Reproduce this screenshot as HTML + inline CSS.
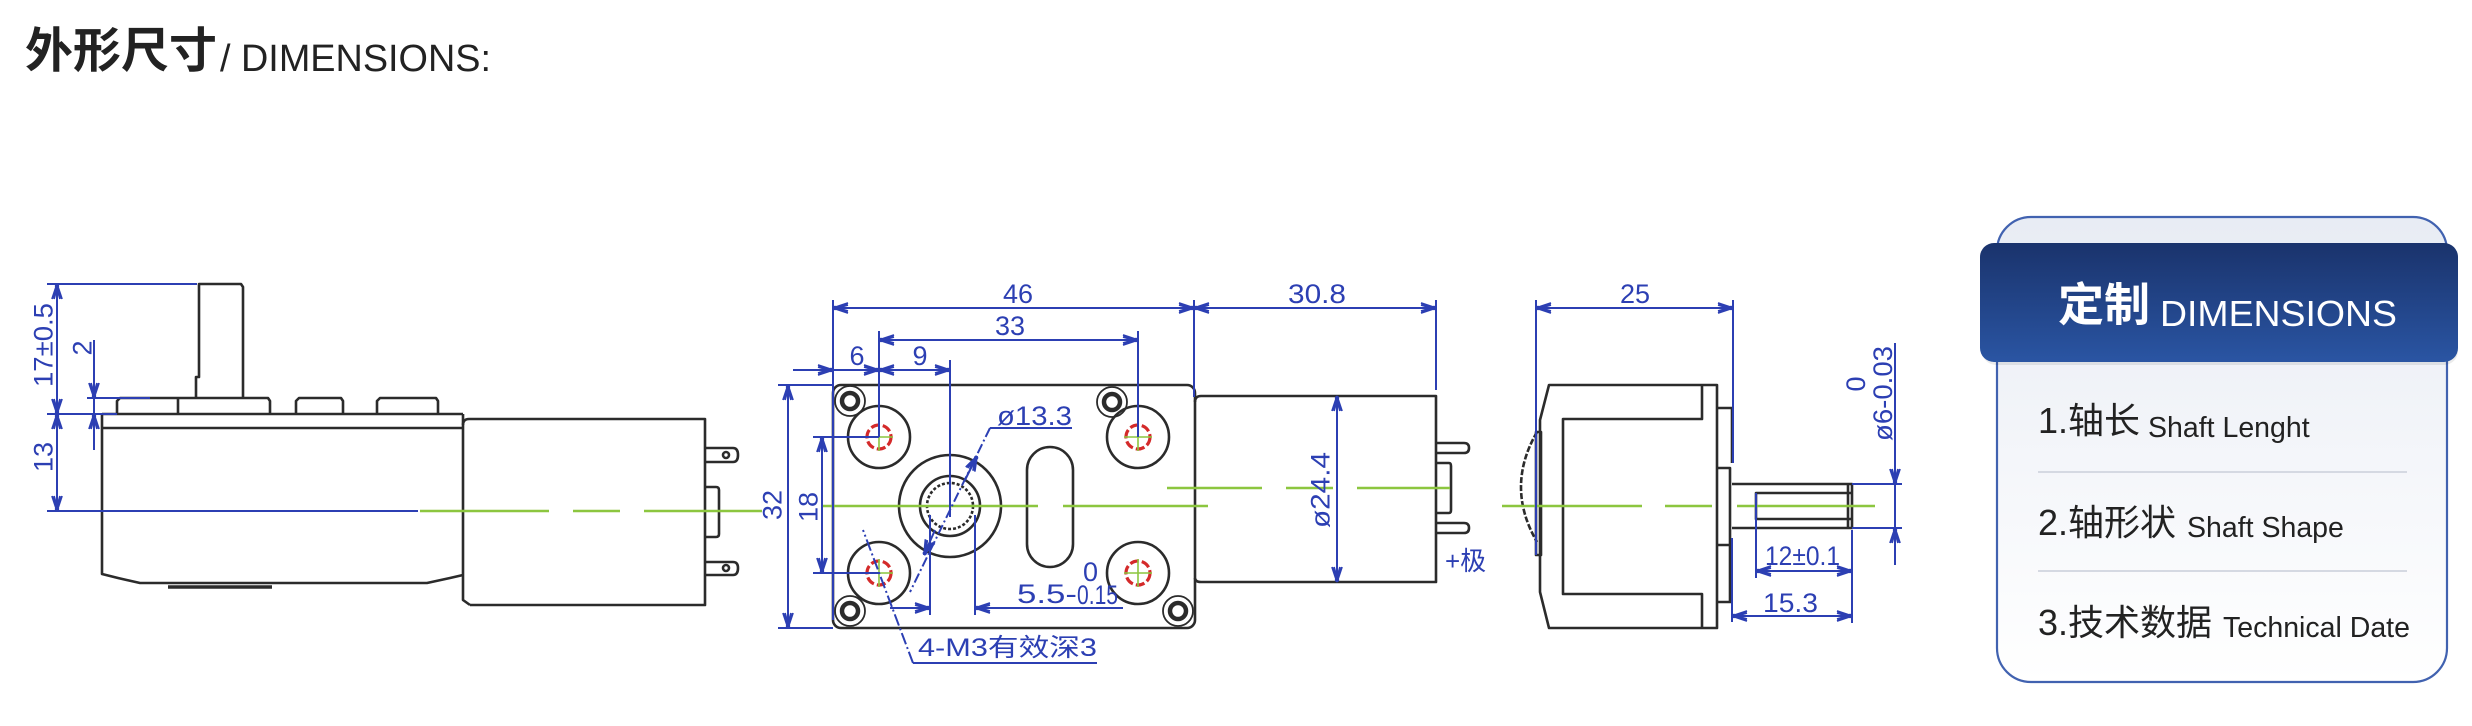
<!DOCTYPE html>
<html><head><meta charset="utf-8"><style>
html,body{margin:0;padding:0;background:#fff;}
body{width:2472px;height:726px;overflow:hidden;}
svg{display:block;}
.k{stroke:#2b2b2b;stroke-width:2.6;fill:none;stroke-linejoin:round;}
.b{stroke:#2c3fb3;stroke-width:2;fill:none;}
.g{stroke:#8cc63f;stroke-width:2.5;fill:none;}
.t{fill:#2c3fb3;font-family:"Liberation Sans","Noto Sans CJK SC",sans-serif;font-size:27px;}
</style></head><body>
<svg width="2472" height="726" viewBox="0 0 2472 726" xmlns="http://www.w3.org/2000/svg">
<defs>
<marker id="a" markerUnits="userSpaceOnUse" markerWidth="30" markerHeight="30" refX="0" refY="0" orient="auto-start-reverse" overflow="visible" viewBox="-20 -10 30 20">
<path d="M0,0 L-15,-5 M0,0 L-15,5 M-4,0 L-15,-3 M-4,0 L-15,3" stroke="#2c3fb3" stroke-width="1.8" fill="none"/>
<circle cx="-2" cy="0" r="2.2" fill="#2c3fb3"/>
</marker>
<linearGradient id="cardg" x1="0" y1="0" x2="0" y2="1">
<stop offset="0" stop-color="#e8ecf4"/><stop offset="1" stop-color="#ffffff"/>
</linearGradient>
<linearGradient id="headg" x1="0" y1="0" x2="0" y2="1">
<stop offset="0" stop-color="#1a336c"/><stop offset="1" stop-color="#2a55a3"/>
</linearGradient>
</defs>

<!-- Title -->
<text x="25" y="67" font-size="48" font-weight="bold" fill="#222" font-family="'Liberation Sans','Noto Sans CJK SC',sans-serif">外形尺寸</text>
<text x="220" y="71" font-size="38" fill="#222" font-family="'Liberation Sans',sans-serif" textLength="271" lengthAdjust="spacingAndGlyphs">/ DIMENSIONS:</text>

<!-- ================= LEFT VIEW ================= -->
<!-- shaft -->
<path class="k" d="M196,398 V377 H199 V284 H241 L243,287 V398"/>
<!-- bumps -->
<path class="k" d="M117,414 V401 L120,398 H178 M178,414 V398 H268 L270,401 V414"/>
<path class="k" d="M296,414 V401 L299,398 H341 L343,401 V414"/>
<path class="k" d="M377,414 V401 L380,398 H436 L438,401 V414"/>
<!-- housing -->
<path class="k" d="M102,414 H463 M102,428 H463 M102,414 V574 L118,578 L140,583 H427 L450,578 L463,575 M463,414 V600 L470,605"/>
<path d="M168,587 H272" stroke="#2b2b2b" stroke-width="3.5"/>
<!-- motor -->
<path class="k" d="M463,425 Q463,419 469,419 H705 V605 H470"/>
<!-- terminals -->
<path class="k" d="M705,448 H733 Q738,448 738,455 Q738,462 733,462 H705"/>
<circle cx="726" cy="455" r="3" class="k" stroke-width="2"/>
<path class="k" d="M705,562 H733 Q738,562 738,568 Q738,575 733,575 H705"/>
<circle cx="726" cy="568" r="3" class="k" stroke-width="2"/>
<path class="k" d="M705,487 H716 Q719,487 719,490 V534 Q719,537 716,537 H705"/>
<!-- dims left -->
<path class="b" d="M47,284 H197 M47,414 H117 M87,398 H150 M47,511 H418"/>
<line class="b" x1="57" y1="284" x2="57" y2="414" marker-start="url(#a)" marker-end="url(#a)"/>
<line class="b" x1="57" y1="414" x2="57" y2="511" marker-start="url(#a)" marker-end="url(#a)"/>
<line class="b" x1="94" y1="340" x2="94" y2="398" marker-end="url(#a)"/>
<line class="b" x1="94" y1="450" x2="94" y2="414" marker-end="url(#a)"/>
<line class="b" x1="94" y1="398" x2="94" y2="414"/>
<text class="t" transform="translate(43,345) rotate(-90)" text-anchor="middle" dy="0.36em" textLength="84" lengthAdjust="spacingAndGlyphs">17±0.5</text>
<text class="t" transform="translate(82,348) rotate(-90)" text-anchor="middle" dy="0.36em">2</text>
<text class="t" transform="translate(43,457) rotate(-90)" text-anchor="middle" dy="0.36em">13</text>
<path class="g" d="M420,511 H549 M573,511 H620 M644,511 H762"/>

<!-- ================= FRONT VIEW ================= -->
<rect class="k" x="833" y="385" width="362" height="243" rx="8"/>
<!-- screws -->
<g class="k">
<circle cx="850" cy="401" r="15" stroke-width="1.8"/><circle cx="850" cy="401" r="8" stroke-width="4.5"/>
<circle cx="1112" cy="402" r="15" stroke-width="1.8"/><circle cx="1112" cy="402" r="8" stroke-width="4.5"/>
<circle cx="850" cy="611" r="15" stroke-width="1.8"/><circle cx="850" cy="611" r="8" stroke-width="4.5"/>
<circle cx="1178" cy="611" r="15" stroke-width="1.8"/><circle cx="1178" cy="611" r="8" stroke-width="4.5"/>
</g>
<!-- bosses -->
<g class="k" stroke-width="2">
<circle cx="879" cy="437" r="31"/><circle cx="1138" cy="437" r="31"/>
<circle cx="879" cy="573" r="31"/><circle cx="1138" cy="573" r="31"/>
</g>
<g fill="none" stroke="#d42a2a" stroke-width="3.2" stroke-dasharray="9 3">
<circle cx="879" cy="437" r="12"/><circle cx="1138" cy="437" r="12"/>
<circle cx="879" cy="573" r="12"/><circle cx="1138" cy="573" r="12"/>
</g>
<g stroke="#8cc63f" stroke-width="1.6">
<path d="M865,437 H893 M879,423 V451 M1124,437 H1152 M1138,423 V451 M865,573 H893 M879,559 V587 M1124,573 H1152 M1138,559 V587"/>
</g>
<!-- central boss -->
<circle class="k" cx="950" cy="506" r="51" stroke-width="2.2"/>
<circle class="k" cx="950" cy="506" r="30" stroke-width="4.5"/>
<circle class="k" cx="950" cy="506" r="23" stroke-width="2" stroke-dasharray="3 2"/>
<!-- slot -->
<rect class="k" x="1027" y="447" width="46" height="120" rx="23"/>
<!-- front motor -->
<path class="k" d="M1195,402 Q1195,396 1201,396 H1436 V582 H1201 Q1195,582 1195,578"/>
<path class="k" d="M1436,443 H1464 Q1469,443 1469,448 Q1469,453 1464,453 H1436"/>
<path class="k" d="M1436,523 H1464 Q1469,523 1469,528 Q1469,533 1464,533 H1436"/>
<path class="k" d="M1436,463 H1449 Q1451,463 1451,466 V510 Q1451,513 1449,513 H1436"/>
<text x="1445" y="570" font-size="26" fill="#2c3fb3" font-family="'Liberation Sans','Noto Sans CJK SC',sans-serif">+极</text>
<!-- green center lines -->
<path class="g" d="M823,506 H1038 M1063,506 H1208"/>
<path class="g" d="M1167,488 H1262 M1286,488 H1333 M1357,488 H1450"/>
<!-- dims front -->
<path class="b" d="M833,300 V620 M1194,300 V397 M1436,300 V390 M879,331 V437 M1138,331 V437 M950,360 V517 M930,515 V615 M975,515 V615"/>
<line class="b" x1="833" y1="308" x2="1194" y2="308" marker-start="url(#a)" marker-end="url(#a)"/>
<line class="b" x1="1194" y1="308" x2="1436" y2="308" marker-start="url(#a)" marker-end="url(#a)"/>
<line class="b" x1="879" y1="340" x2="1138" y2="340" marker-start="url(#a)" marker-end="url(#a)"/>
<line class="b" x1="793" y1="370" x2="833" y2="370" marker-end="url(#a)"/>
<line class="b" x1="833" y1="370" x2="879" y2="370" marker-end="url(#a)"/>
<line class="b" x1="910" y1="370" x2="879" y2="370" marker-end="url(#a)"/>
<line class="b" x1="910" y1="370" x2="950" y2="370" marker-end="url(#a)"/>
<text class="t" x="857" y="365" text-anchor="middle">6</text>
<text class="t" x="920" y="365" text-anchor="middle">9</text>
<text class="t" x="1018" y="303" text-anchor="middle" font-size="28">46</text>
<text class="t" x="1010" y="335" text-anchor="middle" font-size="28">33</text>
<text class="t" x="1317" y="303" text-anchor="middle" font-size="28" textLength="58" lengthAdjust="spacingAndGlyphs">30.8</text>
<!-- 32 / 18 -->
<path class="b" d="M778,385 H833 M778,628 H833 M813,437 H879 M813,573 H879"/>
<line class="b" x1="788" y1="385" x2="788" y2="628" marker-start="url(#a)" marker-end="url(#a)"/>
<line class="b" x1="822" y1="437" x2="822" y2="573" marker-start="url(#a)" marker-end="url(#a)"/>
<text class="t" transform="translate(772,505) rotate(-90)" text-anchor="middle" dy="0.36em">32</text>
<text class="t" transform="translate(808,507) rotate(-90)" text-anchor="middle" dy="0.36em">18</text>
<!-- phi 24.4 -->
<line class="b" x1="1337" y1="396" x2="1337" y2="582" marker-start="url(#a)" marker-end="url(#a)"/>
<text class="t" transform="translate(1320,490) rotate(-90)" text-anchor="middle" dy="0.36em" textLength="76" lengthAdjust="spacingAndGlyphs">ø24.4</text>
<!-- phi 13.3 -->
<text class="t" x="997" y="425" textLength="75" lengthAdjust="spacingAndGlyphs">ø13.3</text>
<path class="b" d="M990,428 H1072"/>
<path class="b" d="M990,428 L910,592" stroke-dasharray="10 3 2 3"/>
<line class="b" x1="965" y1="480" x2="977" y2="456" marker-end="url(#a)"/>
<line class="b" x1="935" y1="530" x2="924" y2="555" marker-end="url(#a)"/>
<!-- 5.5 -->
<line class="b" x1="890" y1="608" x2="930" y2="608" marker-end="url(#a)"/>
<line class="b" x1="1123" y1="608" x2="975" y2="608" marker-end="url(#a)"/>
<text class="t" x="1017" y="603" font-size="26" textLength="60" lengthAdjust="spacingAndGlyphs">5.5-</text>
<text class="t" x="1083" y="581" font-size="20">0</text>
<text class="t" x="1077" y="604" font-size="21" textLength="41" lengthAdjust="spacingAndGlyphs">0.15</text>
<!-- 4-M3 -->
<path class="b" d="M913,663 H1097"/>
<path class="b" d="M913,663 L863,530" stroke-dasharray="12 3 2 3"/>
<text x="918" y="656" font-size="25" fill="#2c3fb3" font-family="'Liberation Sans','Noto Sans CJK SC',sans-serif" textLength="179" lengthAdjust="spacingAndGlyphs">4-M3有效深3</text>

<!-- ================= SIDE VIEW ================= -->
<path class="k" d="M1549,385 H1717 V628 H1549 L1540,592 V420 Z"/>
<path class="k" d="M1702,385 V419 H1563 V594 H1702 V628"/>
<path class="k" d="M1537,432 Q1505,487 1537,542" stroke-dasharray="6 2"/>
<rect class="k" x="1536" y="432" width="5" height="123" stroke-width="2"/>
<path class="k" d="M1717,408 H1732 V463 M1717,468 H1730 V602 M1717,545 H1730 M1717,602 H1732"/>
<!-- shaft -->
<path class="k" d="M1732,484 H1852 V528 H1732 M1852,493 H1756 V519 H1852 M1848,484 V528"/>
<path class="g" d="M1502,506 H1642 M1665,506 H1712 M1737,506 H1875"/>
<!-- dims side -->
<path class="b" d="M1536,300 V555 M1733,300 V463 M1852,484 H1902 M1852,528 H1902 M1756,493 V578 M1852,530 V623 M1732,538 V622"/>
<line class="b" x1="1536" y1="308" x2="1733" y2="308" marker-start="url(#a)" marker-end="url(#a)"/>
<text class="t" x="1635" y="303" text-anchor="middle" font-size="28">25</text>
<line class="b" x1="1895" y1="343" x2="1895" y2="484" marker-end="url(#a)"/>
<line class="b" x1="1895" y1="565" x2="1895" y2="528" marker-end="url(#a)"/>
<line class="b" x1="1895" y1="484" x2="1895" y2="528"/>
<text class="t" transform="translate(1892,441) rotate(-90)" font-size="25" textLength="95" lengthAdjust="spacingAndGlyphs">ø6-0.03</text>
<text class="t" transform="translate(1865,384) rotate(-90)" text-anchor="middle" font-size="19">0</text>
<line class="b" x1="1756" y1="571" x2="1852" y2="571" marker-start="url(#a)" marker-end="url(#a)"/>
<text class="t" x="1765" y="565" font-size="26" textLength="75" lengthAdjust="spacingAndGlyphs">12±0.1</text>
<line class="b" x1="1732" y1="616" x2="1852" y2="616" marker-start="url(#a)" marker-end="url(#a)"/>
<text class="t" x="1763" y="612" font-size="28" textLength="55" lengthAdjust="spacingAndGlyphs">15.3</text>

<!-- ================= CARD ================= -->
<rect x="1997" y="217" width="450" height="465" rx="34" fill="url(#cardg)" stroke="#4162b0" stroke-width="2.2"/>
<rect x="1982" y="246" width="476" height="119" rx="14" fill="#000" opacity="0.08"/>
<rect x="1980" y="243" width="478" height="119" rx="14" fill="url(#headg)"/>
<text x="2058" y="321" font-size="46" font-weight="bold" fill="#fff" font-family="'Liberation Sans','Noto Sans CJK SC',sans-serif">定制</text>
<text x="2160" y="326" font-size="36" fill="#fff" font-family="'Liberation Sans',sans-serif" textLength="237" lengthAdjust="spacingAndGlyphs">DIMENSIONS</text>
<g font-family="'Liberation Sans','Noto Sans CJK SC',sans-serif" fill="#222">
<text x="2038" y="433" font-size="36">1.轴长</text>
<text x="2148" y="437" font-size="28.5">Shaft Lenght</text>
<text x="2038" y="535" font-size="36">2.轴形状</text>
<text x="2187" y="537" font-size="28.5">Shaft Shape</text>
<text x="2038" y="635" font-size="36">3.技术数据</text>
<text x="2223" y="637" font-size="28.5">Technical Date</text>
</g>
<path d="M2038,472 H2407 M2038,571 H2407" stroke="#d5d9e2" stroke-width="2"/>
</svg>
</body></html>
